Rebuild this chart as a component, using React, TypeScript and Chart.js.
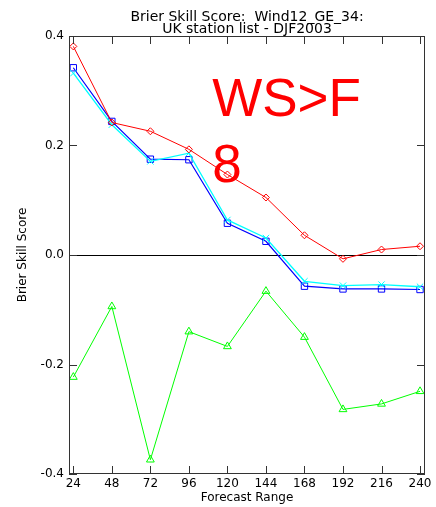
import React, { useEffect, useRef } from 'react';
import { Chart, registerables } from 'chart.js';

Chart.register(...registerables);

// ---- data ----
const forecastRange = [24, 48, 72, 96, 120, 144, 168, 192, 216, 240];
const redSeries = [0.381, 0.242, 0.226, 0.193, 0.147, 0.105, 0.036, -0.007, 0.010, 0.016];
const blueSeries = [0.342, 0.244, 0.175, 0.174, 0.058, 0.025, -0.057, -0.062, -0.062, -0.063];
const cyanSeries = [0.332, 0.238, 0.171, 0.186, 0.064, 0.031, -0.048, -0.056, -0.054, -0.058];
const greenSeries = [-0.223, -0.094, -0.374, -0.140, -0.167, -0.066, -0.150, -0.282, -0.272, -0.249];
const yTicks = [-0.4, -0.2, 0, 0.2, 0.4];
const titleLines = ['Brier Skill Score:  Wind12_GE_34:', 'UK station list - DJF2003'];
const xTitle = 'Forecast Range';
const yTitle = 'Brier Skill Score';
const annotationLines = ['WS>F', '8'];

// annotation anchor in data units (left edge x, baseline y per line)
const annotationX = 110.5;
const annotationY = [0.254, 0.133];

const FONT = '"DejaVu Sans", sans-serif';

const toPoints = (vals: number[]) => forecastRange.map((x, i) => ({ x, y: vals[i] }));

const framePlugin = {
  id: 'frameTicks',
  beforeDatasetsDraw(chart: any) {
    const { ctx, scales } = chart;
    ctx.save();
    ctx.fillStyle = '#ff0000';
    ctx.font = '53px "Liberation Sans", Arial, sans-serif';
    ctx.textAlign = 'left';
    ctx.textBaseline = 'alphabetic';
    annotationLines.forEach((s, i) => {
      ctx.fillText(s, scales.x.getPixelForValue(annotationX), scales.y.getPixelForValue(annotationY[i]));
    });
    ctx.restore();
  },
  afterDatasetsDraw(chart: any) {
    const { ctx, chartArea: a, scales } = chart;
    ctx.save();
    ctx.strokeStyle = '#333333';
    ctx.lineWidth = 1;
    ctx.strokeRect(a.left + 0.5, a.top + 0.5, a.right - a.left - 1, a.bottom - a.top - 1);
    const L = 8;
    ctx.beginPath();
    scales.x.ticks.forEach((t: any) => {
      const px = Math.round(scales.x.getPixelForValue(t.value)) + 0.5;
      ctx.moveTo(px, a.bottom);
      ctx.lineTo(px, a.bottom - L);
      ctx.moveTo(px, a.top);
      ctx.lineTo(px, a.top + L);
    });
    scales.y.ticks.forEach((t: any) => {
      const py = Math.round(scales.y.getPixelForValue(t.value)) + 0.5;
      ctx.moveTo(a.left, py);
      ctx.lineTo(a.left + L, py);
      ctx.moveTo(a.right, py);
      ctx.lineTo(a.right - L, py);
    });
    ctx.stroke();
    ctx.restore();
  },
};

export default function App() {
  const ref = useRef<HTMLCanvasElement | null>(null);

  useEffect(() => {
    if (!ref.current) return;
    const ds = (label: string, vals: number[], color: string, style: string, r: number, w = 1) => ({
      label,
      data: toPoints(vals),
      borderColor: color,
      backgroundColor: 'rgba(0,0,0,0)',
      borderWidth: w,
      pointStyle: style,
      pointRadius: r,
      pointBorderWidth: 1,
      pointBorderColor: color,
      pointBackgroundColor: 'rgba(0,0,0,0)',
      tension: 0,
      fill: false,
    });

    const chart = new Chart(ref.current, {
      type: 'line',
      data: {
        datasets: [
          ds('red', redSeries, '#ff0000', 'rectRot', 3.5),
          ds('cyan', cyanSeries, '#00ffff', 'crossRot', 4.5, 1.3),
          ds('blue', blueSeries, '#0000ff', 'rect', 4.5, 1.2),
          ds('green', greenSeries, '#00ff00', 'triangle', 4.5),
        ] as any,
      },
      options: {
        responsive: false,
        animation: false,
        layout: { padding: { left: 0, right: 11, top: 0, bottom: 0 } },
        plugins: {
          legend: { display: false },
          tooltip: { enabled: false },
          title: {
            display: true,
            text: titleLines,
            color: '#000',
            fullSize: false,
            font: { family: FONT, size: 14, weight: 'normal', lineHeight: 12 / 14 },
            padding: { top: 11, bottom: 1 },
          },
        },
        scales: {
          x: {
            type: 'linear',
            min: 21.3,
            max: 243.1,
            afterBuildTicks: (s: any) => {
              s.ticks = forecastRange.map((v) => ({ value: v }));
            },
            afterFit: (s: any) => {
              s.height = 33;
            },
            ticks: {
              color: '#000',
              font: { family: FONT, size: 12 },
              padding: 3,
              maxRotation: 0,
              autoSkip: false,
              callback: (v: any) => String(v),
            },
            grid: { drawOnChartArea: false, drawTicks: false },
            border: { display: false },
            title: {
              display: true,
              text: xTitle,
              color: '#000',
              font: { family: FONT, size: 12 },
              padding: { top: 0, bottom: 2 },
            },
          },
          y: {
            type: 'linear',
            min: -0.4,
            max: 0.4,
            afterBuildTicks: (s: any) => {
              s.ticks = yTicks.map((v) => ({ value: v }));
            },
            afterFit: (s: any) => {
              s.width = 69;
            },
            ticks: {
              color: '#000',
              font: { family: FONT, size: 12 },
              padding: 5,
              callback: (v: any) => Number(v).toFixed(1),
            },
            grid: {
              drawOnChartArea: true,
              drawTicks: false,
              lineWidth: 1,
              color: (c: any) => (c.tick && Math.abs(c.tick.value) < 1e-9 ? '#000000' : 'rgba(0,0,0,0)'),
            },
            border: { display: false },
            title: {
              display: true,
              text: yTitle,
              color: '#000',
              font: { family: FONT, size: 12 },
              padding: { top: 16, bottom: 0 },
            },
          },
        },
      } as any,
      plugins: [framePlugin],
    });
    return () => chart.destroy();
  }, []);

  return (
    <div style={{ position: 'absolute', left: 0, top: 0, width: 436, height: 507, background: '#fff' }}>
      <canvas ref={ref} width={436} height={507} style={{ display: 'block' }} />
    </div>
  );
}
